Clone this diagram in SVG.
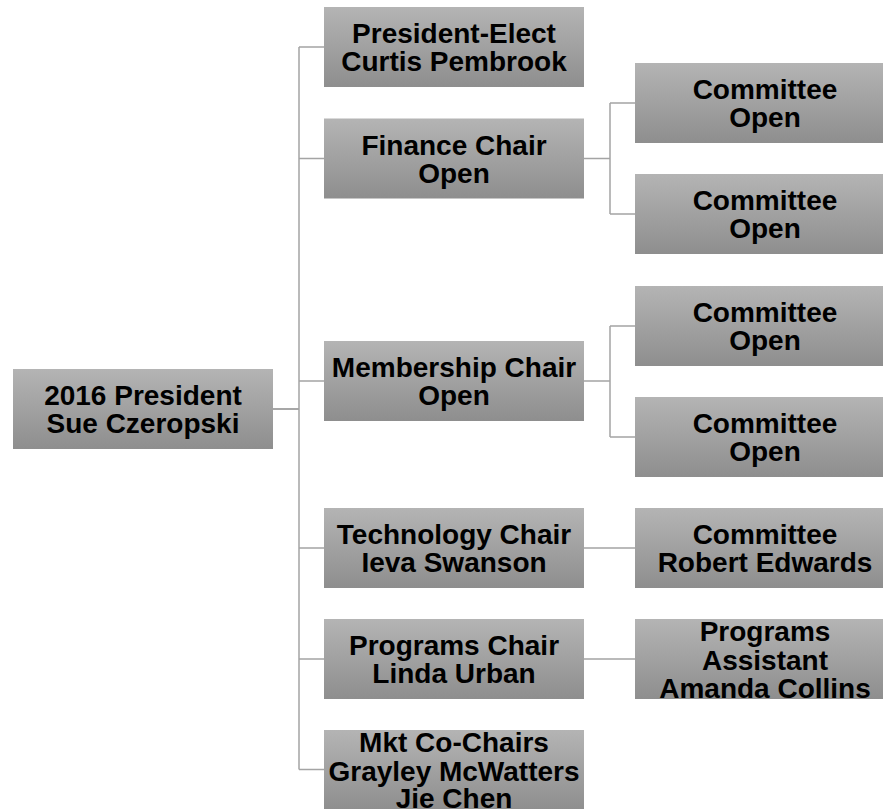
<svg xmlns="http://www.w3.org/2000/svg" width="883" height="809" viewBox="0 0 883 809">
<defs>
<linearGradient id="g" x1="0" y1="0" x2="0" y2="1">
<stop offset="0" stop-color="#b4b4b4"/>
<stop offset="1" stop-color="#8e8e8e"/>
</linearGradient>
</defs>
<style>
.b{fill:url(#g);}
.t{font-family:"Liberation Sans",Arial,sans-serif;font-weight:bold;font-size:28px;fill:#000;text-anchor:middle;}
.c{fill:none;stroke:#a4a4a4;stroke-width:1.5;}
.r{fill:none;stroke:#8a8a8a;stroke-width:1.5;}
</style>
<rect width="883" height="809" fill="#fff"/>
<g id="connectors">
<path class="r" d="M273 409H299"/>
<path class="c" d="M299 47V769.5M299 47H324M299 158.5H324M299 381H324M299 548H324M299 659H324M299 769.5H324"/>
<path class="c" d="M584 158.5H610M610 103V214M610 103H635M610 214H635"/>
<path class="c" d="M584 381H610M610 326V437M610 326H635M610 437H635"/>
<path class="c" d="M584 548H635M584 659H635"/>
</g>
<g id="root"><rect class="b" x="13" y="369" width="260" height="80"/><text class="t" x="143" y="405">2016 President</text><text class="t" x="143" y="433">Sue Czeropski</text></g>
<g id="president-elect"><rect class="b" x="324" y="7" width="260" height="80"/><text class="t" x="454" y="43">President-Elect</text><text class="t" x="454" y="71">Curtis Pembrook</text></g>
<g id="finance"><rect class="b" x="324" y="118.5" width="260" height="80"/><text class="t" x="454" y="154.5">Finance Chair</text><text class="t" x="454" y="182.5">Open</text></g>
<g id="membership"><rect class="b" x="324" y="341" width="260" height="80"/><text class="t" x="454" y="377">Membership Chair</text><text class="t" x="454" y="405">Open</text></g>
<g id="technology"><rect class="b" x="324" y="508" width="260" height="80"/><text class="t" x="454" y="544">Technology Chair</text><text class="t" x="454" y="572">Ieva Swanson</text></g>
<g id="programs"><rect class="b" x="324" y="619" width="260" height="80"/><text class="t" x="454" y="655">Programs Chair</text><text class="t" x="454" y="683">Linda Urban</text></g>
<g id="marketing"><rect class="b" x="324" y="730" width="260" height="80"/><text class="t" x="454" y="752">Mkt Co-Chairs</text><text class="t" x="454" y="780.5">Grayley McWatters</text><text class="t" x="454" y="808">Jie Chen</text></g>
<g id="fin-committee-1"><rect class="b" x="635" y="63" width="260" height="80"/><text class="t" x="765" y="99">Committee</text><text class="t" x="765" y="127">Open</text></g>
<g id="fin-committee-2"><rect class="b" x="635" y="174" width="260" height="80"/><text class="t" x="765" y="210">Committee</text><text class="t" x="765" y="238">Open</text></g>
<g id="mem-committee-1"><rect class="b" x="635" y="286" width="260" height="80"/><text class="t" x="765" y="322">Committee</text><text class="t" x="765" y="350">Open</text></g>
<g id="mem-committee-2"><rect class="b" x="635" y="397" width="260" height="80"/><text class="t" x="765" y="433">Committee</text><text class="t" x="765" y="461">Open</text></g>
<g id="tech-committee"><rect class="b" x="635" y="508" width="260" height="80"/><text class="t" x="765" y="544">Committee</text><text class="t" x="765" y="572">Robert Edwards</text></g>
<g id="programs-assistant"><rect class="b" x="635" y="619" width="260" height="80"/><text class="t" x="765" y="641">Programs</text><text class="t" x="765" y="669.5">Assistant</text><text class="t" x="765" y="698">Amanda Collins</text></g>
</svg>
